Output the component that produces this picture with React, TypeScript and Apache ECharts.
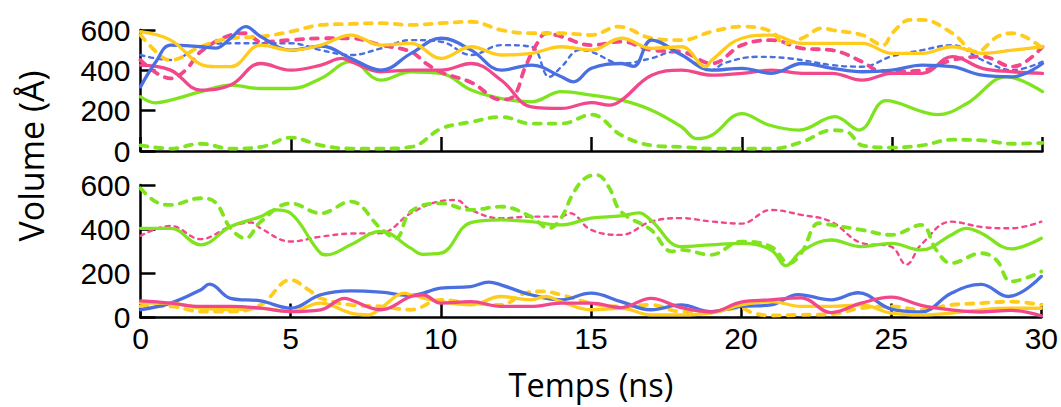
import React, { useEffect, useRef } from "react";
import * as echarts from "echarts";

// ---- data: [time (ns), volume (Å)] ----
const xTicks = [0, 5, 10, 15, 20, 25, 30];
const yTicks = [0, 200, 400, 600];

// top panel
const topBlueSolid = [[0,318],[0.5,440],[1,525],[2,517],[2.5,510],[3,560],[3.5,617],[4,567],[5,500],[6,520],[7,459],[8,401],[9,484],[10,559],[11,500],[12,401],[13,426],[14,368],[14.4,343],[15,410],[16,434],[16.4,420],[17,550],[18,476],[19,401],[20,410],[21,385],[22,434],[23,410],[24,393],[25,401],[26,426],[27,418],[28,376],[29,368],[30,434]];
const topBlueDashed = [[0,476],[1,451],[2,517],[3,534],[4,534],[5,534],[6,500],[7,476],[8,509],[9,550],[10,542],[11,476],[12,525],[13,517],[13.6,368],[14,418],[14.6,500],[15,492],[16,434],[17,460],[17.7,490],[18.5,430],[19,401],[19.4,435],[20.5,467],[21.6,459],[23,426],[24,418],[25,470],[26,500],[27,525],[28,451],[29,401],[30,443]];
const topYellowSolid = [[0,592],[1,550],[2,430],[2.5,418],[3,418],[4,525],[5,500],[6,525],[7,575],[8,525],[9,534],[10,459],[11,517],[12,476],[13,484],[14,517],[15,500],[16,559],[17,509],[18,517],[18.8,418],[19,450],[20,559],[21,575],[22,534],[23,534],[24,534],[25,484],[26,484],[27,517],[28,484],[29,500],[30,517]];
const topYellowDashed = [[0,575],[0.7,467],[1,451],[2,517],[3,559],[4,567],[5,592],[6,625],[7,630],[8,634],[9,625],[10,634],[11,641],[12,600],[13,584],[14,584],[15,575],[15.9,617],[17,559],[18,550],[19,592],[20,617],[21,592],[21.4,534],[22,559],[22.7,609],[23,600],[24,575],[24.7,525],[25,584],[25.6,650],[26,650],[27,584],[27.8,492],[28.5,567],[29,584],[30,509]];
const topPinkSolid = [[0,426],[1,401],[2,302],[3,327],[4,434],[5,401],[6,426],[6.7,459],[7,443],[8,393],[9,401],[10,401],[11,434],[12,351],[13,219],[14,211],[15,240],[15.6,227],[16,252],[17,376],[18,401],[19,376],[20,385],[21,401],[22,385],[23,385],[24,351],[25,385],[26,385],[27,468],[28,410],[29,393],[30,385]];
const topPinkDashed = [[0,451],[1,360],[1.5,401],[2,492],[3,575],[3.5,584],[4,542],[5,550],[6,559],[7,559],[8,525],[9,492],[9.5,434],[10,390],[11,340],[12,255],[12.4,270],[12.8,417],[13.2,535],[13.5,584],[14,567],[15,525],[16,542],[17,500],[18,492],[19,434],[20,525],[21,550],[22,509],[23,500],[24,443],[24.5,401],[25,395],[26,400],[27,451],[28,468],[29,418],[30,517]];
const topGreenSolid = [[0,269],[0.5,239],[1,252],[2,294],[3,327],[4,310],[5,310],[6,360],[7,443],[8,351],[9,393],[10,385],[11,302],[12,260],[13,244],[14,294],[15,277],[16,252],[17,202],[18,119],[18.5,61],[19,78],[20,185],[20.9,129],[21.9,104],[23.1,170],[23.9,104],[24.8,250],[26,195],[26.5,180],[27.5,237],[28.8,368],[30,294]];
const topGreenDashed = [[0,28],[1,12],[2,36],[3,12],[4,20],[5,66],[6,28],[7,12],[8,12],[9,20],[10,111],[11,144],[12,169],[13,136],[14,136],[15,180],[16,78],[17,28],[18,20],[19,12],[20,12],[21,12],[22,45],[23,103],[23.5,95],[24,28],[25,17],[26,28],[27,56],[28,53],[29,36],[30,40]];

// bottom panel
const botGreenSolid = [[0,404],[1,404],[2,329],[3,412],[4,457],[4.5,487],[5,472],[6,291],[6.2,284],[7,329],[8,390],[9,314],[9.4,286],[10,291],[11,430],[12,442],[13,434],[14,419],[15,450],[16,460],[16.6,474],[17,440],[18,321],[19,329],[20,336],[21,306],[21.5,235],[22,299],[23,351],[24,321],[25,336],[26,306],[27,374],[27.5,404],[28,382],[29,311],[30,359]];
const botGreenDashed = [[0,585],[0.5,525],[1,510],[2,540],[2.5,520],[3,404],[3.5,359],[4,434],[5,517],[6,472],[7,525],[8,404],[8.5,359],[9,480],[10,517],[11,487],[12,502],[13,457],[13.6,404],[14,449],[14.4,560],[14.8,630],[15.2,645],[15.6,590],[16,480],[17,397],[17.7,299],[18,306],[19,284],[20,344],[21,321],[21.6,246],[22,291],[22.6,427],[23,419],[24,397],[25,374],[26,419],[26.5,306],[27,246],[28,291],[28.5,261],[29,163],[30,208]];
const botPinkDotted = [[0,370],[1,415],[2,355],[3,412],[3.7,430],[4,404],[5,344],[6,366],[7,380],[8,382],[9,472],[10,527],[10.5,532],[11,487],[12,449],[13,457],[14,457],[14.3,472],[15,397],[16,374],[17,434],[18,450],[19,435],[20,425],[21,487],[22,465],[23,434],[24,338],[25,321],[25.5,240],[26,330],[27,434],[28,410],[29,404],[30,434]];
const botBlueSolid = [[0,35],[1,65],[2,125],[2.3,151],[3,87],[4,75],[5,42],[6,103],[7,121],[8,115],[9,100],[10,133],[11,140],[11.6,160],[12,148],[13,103],[14,80],[15,110],[16,72],[17,35],[18,57],[19,27],[20,50],[21,57],[21.9,104],[23,80],[23.9,112],[25,38],[26,25],[27,110],[28,150],[28.9,95],[30,186]];
const botYellowSolid = [[0,65],[1,65],[2,42],[3,35],[4,42],[5,27],[6,65],[7,20],[7.6,12],[8,42],[8.8,110],[9,103],[10,72],[11,57],[12,95],[13,80],[13.5,95],[14,72],[15,35],[16,42],[17,12],[18,12],[19,20],[20,57],[21,72],[22,50],[23,50],[24,57],[25,20],[26,12],[27,20],[28,35],[29,42],[30,42]];
const botYellowDashed = [[0,50],[1,50],[2,27],[3,27],[4,57],[5,170],[5.6,125],[6,87],[7,57],[8,50],[9,35],[10,80],[11,65],[12,57],[12.8,110],[13.4,118],[14,103],[15,65],[16,50],[17,57],[18,27],[19,27],[20,42],[20.4,20],[21,9],[22,12],[23,15],[24,42],[25,50],[26,35],[27,57],[28,65],[29,72],[30,57]];
const botPinkSolid = [[0,75],[1,65],[2,50],[3,50],[4,42],[5,27],[6,35],[6.8,87],[7,80],[8,35],[9,95],[9.4,103],[10,65],[11,72],[12,50],[13,50],[14,65],[15,65],[16,45],[17,87],[18,45],[19,25],[20,70],[21,80],[22,89],[23,22],[24,65],[25,92],[26,55],[27,35],[28,25],[29,32],[30,8]];

const BLUE = "#4a6fe1";
const YELLOW = "#ffcb1c";
const PINK = "#f2478b";
const GREEN = "#7fe41e";

type Def = { data: number[][]; panel: number; color: string; width: number; dash?: number[] };

const defs: Def[] = [
  { data: topGreenDashed, panel: 0, color: GREEN, width: 3.8, dash: [7, 8] },
  { data: topGreenSolid, panel: 0, color: GREEN, width: 3.3 },
  { data: topBlueDashed, panel: 0, color: BLUE, width: 2.4, dash: [4, 5] },
  { data: topPinkDashed, panel: 0, color: PINK, width: 3.8, dash: [7, 8] },
  { data: topYellowDashed, panel: 0, color: YELLOW, width: 3.8, dash: [7, 8] },
  { data: topPinkSolid, panel: 0, color: PINK, width: 3.3 },
  { data: topBlueSolid, panel: 0, color: BLUE, width: 3.3 },
  { data: topYellowSolid, panel: 0, color: YELLOW, width: 3.3 },
  { data: botPinkDotted, panel: 1, color: PINK, width: 2.4, dash: [4, 5] },
  { data: botGreenDashed, panel: 1, color: GREEN, width: 3.8, dash: [7, 8] },
  { data: botGreenSolid, panel: 1, color: GREEN, width: 3.3 },
  { data: botYellowDashed, panel: 1, color: YELLOW, width: 3.8, dash: [7, 8] },
  { data: botBlueSolid, panel: 1, color: BLUE, width: 3.3 },
  { data: botYellowSolid, panel: 1, color: YELLOW, width: 3.3 },
  { data: botPinkSolid, panel: 1, color: PINK, width: 3.3 },
];

const LABEL_FONT = "'Liberation Sans', Arial, sans-serif";
const TITLE_FONT = "'Open Sans', 'Liberation Sans', sans-serif";

function xAxis(gridIndex: number, showLabels: boolean) {
  return {
    type: "value",
    gridIndex,
    min: xTicks[0],
    max: xTicks[xTicks.length - 1],
    interval: xTicks[1] - xTicks[0],
    axisLine: { show: true, onZero: false, lineStyle: { color: "#000", width: 2.5 } },
    axisTick: { show: true, inside: true, length: 14, lineStyle: { color: "#000", width: 2.5 } },
    axisLabel: { show: showLabels, fontSize: 30, color: "#000", fontFamily: LABEL_FONT, margin: 6 },
    splitLine: { show: false },
    name: showLabels ? "Temps (ns)" : "",
    nameLocation: "middle",
    nameGap: 50,
    nameTextStyle: { fontSize: 32.5, lineHeight: 34, color: "#000", fontFamily: TITLE_FONT },
  };
}

function yAxis(gridIndex: number) {
  return {
    type: "value",
    gridIndex,
    min: yTicks[0],
    max: yTicks[yTicks.length - 1],
    interval: yTicks[1] - yTicks[0],
    axisLine: { show: true, onZero: false, lineStyle: { color: "#000", width: 2.5 } },
    axisTick: { show: true, inside: true, length: 15, lineStyle: { color: "#000", width: 2.5 } },
    axisLabel: { fontSize: 30, color: "#000", fontFamily: LABEL_FONT, margin: 10 },
    splitLine: { show: false },
  };
}

export default function App() {
  const ref = useRef<HTMLDivElement>(null);
  useEffect(() => {
    if (!ref.current) return;
    const chart = echarts.init(ref.current, undefined, { renderer: "svg" });
    chart.setOption({
      animation: false,
      backgroundColor: "#fff",
      grid: [
        { left: 140.5, right: 18.5, top: 30, height: 121 },
        { left: 140.5, right: 18.5, top: 185, height: 132.5 },
      ],
      xAxis: [xAxis(0, false), xAxis(1, true)],
      yAxis: [yAxis(0), yAxis(1)],
      graphic: [
        {
          type: "text",
          x: 31,
          y: 156,
          rotation: Math.PI / 2,
          style: {
            text: "Volume (Å)",
            fontSize: 34,
            fontFamily: TITLE_FONT,
            fill: "#000",
            textAlign: "center",
            textVerticalAlign: "middle",
          },
        },
      ],
      series: defs.map((d) => ({
        type: "line",
        xAxisIndex: d.panel,
        yAxisIndex: d.panel,
        data: d.data,
        smooth: 0.4,
        showSymbol: false,
        clip: false,
        lineStyle: {
          color: d.color,
          width: d.width,
          type: d.dash ? d.dash : "solid",
          cap: "round",
          join: "round",
        },
      })),
    });
    return () => chart.dispose();
  }, []);
  return (
    <div
      ref={ref}
      style={{ position: "absolute", left: 0, top: 0, width: 1061, height: 407, background: "#fff" }}
    />
  );
}
